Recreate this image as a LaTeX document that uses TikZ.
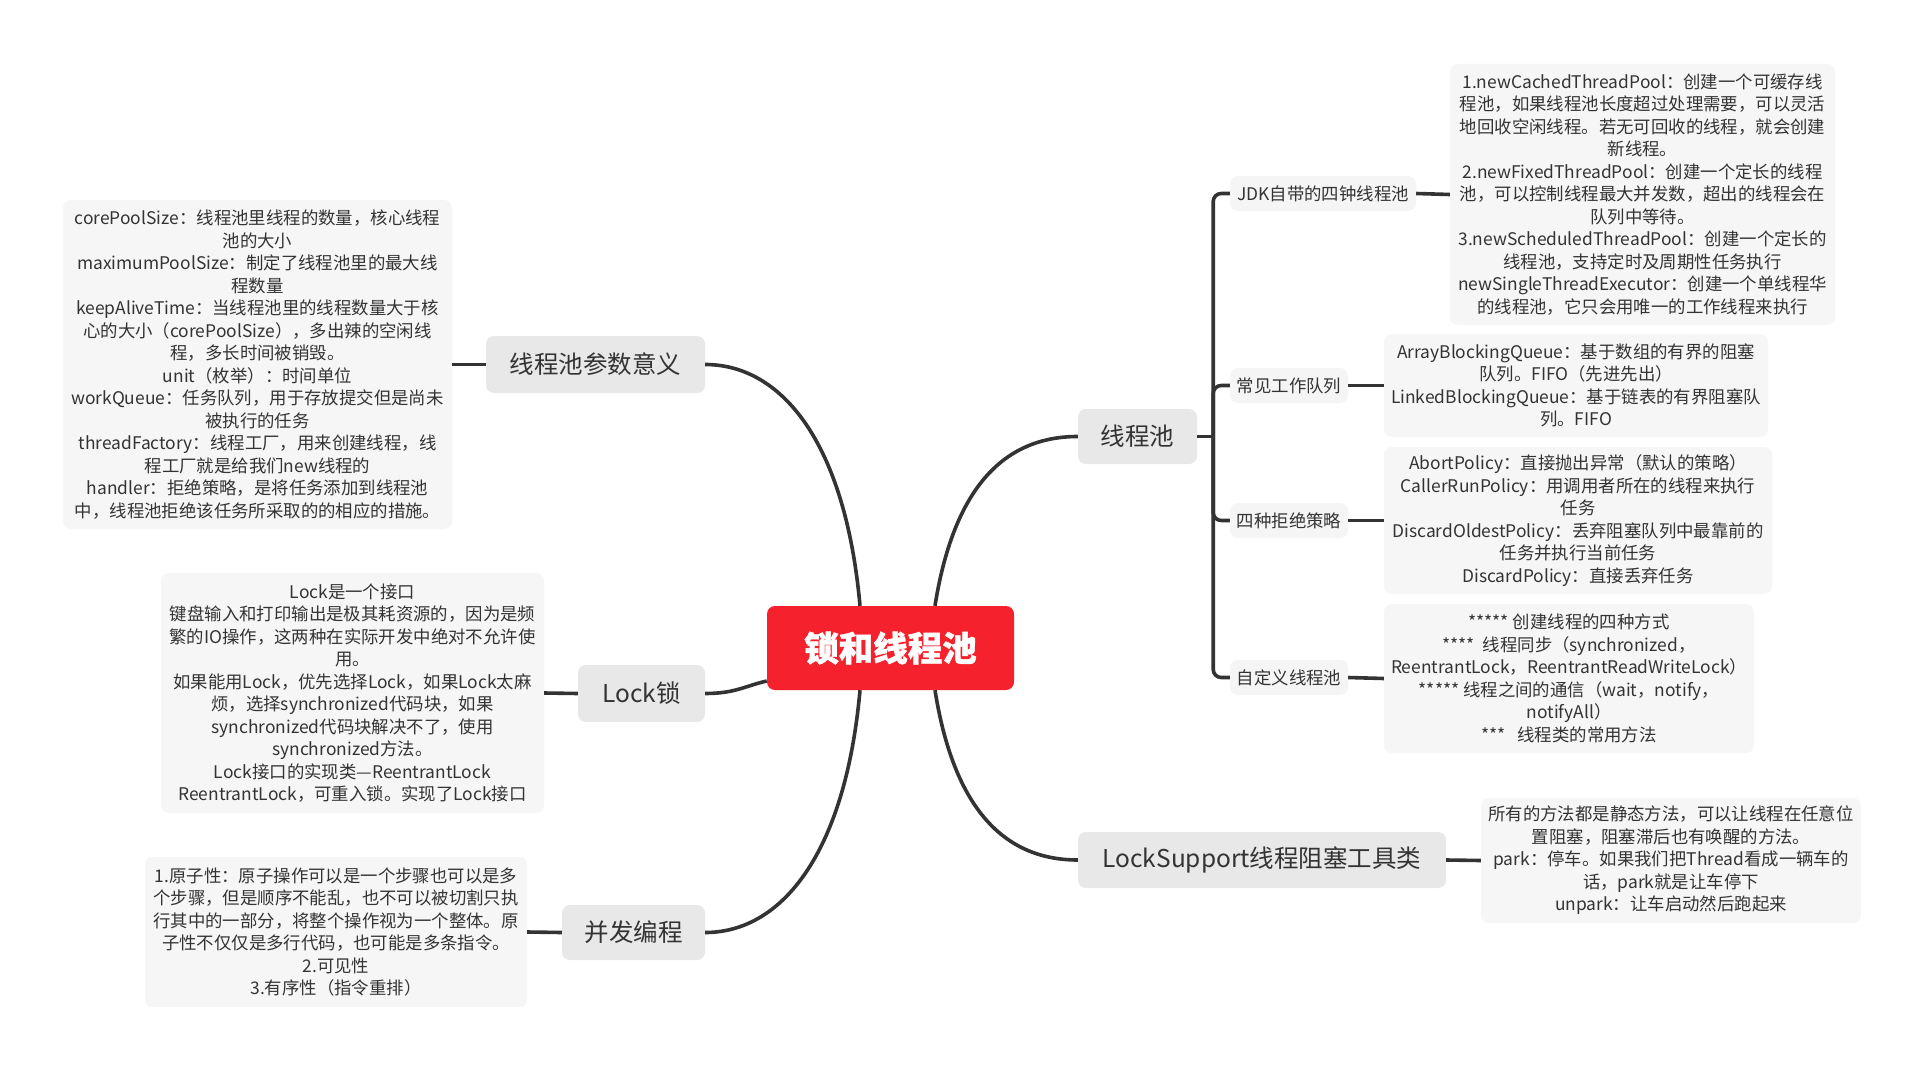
\documentclass[tikz,border=0pt]{standalone}
\usepackage{fontspec}
\setmainfont{Noto Sans CJK SC}
\usetikzlibrary{calc}
\definecolor{cred}{RGB}{245,34,45}
\definecolor{bfill}{RGB}{232,232,232}
\definecolor{sfill}{RGB}{245,245,245}
\definecolor{nfill}{RGB}{246,246,246}
\definecolor{lcol}{RGB}{51,51,51}
\definecolor{tcol}{RGB}{51,51,51}
\begin{document}
\begin{tikzpicture}[x=1pt,y=-1pt,
  centralbox/.style={fill=cred, rounded corners=8pt, text=white, font=\fontsize{34.5}{40}\selectfont\bfseries\addfontfeatures{FakeBold=1.2}, inner sep=0pt},
  branchbox/.style={fill=bfill, rounded corners=8pt, text=tcol, font=\fontsize{24.5}{30}\selectfont, inner sep=0pt},
  subbox/.style={fill=sfill, rounded corners=8pt, text=tcol, font=\fontsize{17.4}{22}\selectfont, inner sep=0pt, minimum width=118pt, minimum height=35pt},
  notebox/.style={fill=nfill, rounded corners=8pt, text=tcol, font=\fontsize{17.4}{22.5}\selectfont, align=center, inner sep=0pt},
  link/.style={draw=lcol, line width=3.6pt},
]
\fill[white] (0,0) rectangle (1925,1070);
\useasboundingbox (0,0) rectangle (1925,1070);

% central
\node[centralbox, minimum width=247pt, minimum height=84pt] (c) at (890.5,648) {锁和线程池};

% left side
\node[branchbox, minimum width=219pt, minimum height=57pt] (p) at (595.5,364.5) {线程池参数意义};
\node[notebox, minimum width=389pt, minimum height=329pt] (pn) at (257.5,364.5) {corePoolSize：线程池里线程的数量，核心线程\\池的大小\\maximumPoolSize：制定了线程池里的最大线\\程数量\\keepAliveTime：当线程池里的线程数量大于核\\心的大小（corePoolSize），多出辣的空闲线\\程，多长时间被销毁。\\unit（枚举）：时间单位\\workQueue：任务队列，用于存放提交但是尚未\\被执行的任务\\threadFactory：线程工厂，用来创建线程，线\\程工厂就是给我们new线程的\\handler：拒绝策略，是将任务添加到线程池\\中，线程池拒绝该任务所采取的的相应的措施。};

\node[branchbox, minimum width=127pt, minimum height=57pt] (l) at (641.5,693.5) {Lock锁};
\node[notebox, minimum width=383pt, minimum height=240pt] (ln) at (352.5,693) {Lock是一个接口\\键盘输入和打印输出是极其耗资源的，因为是频\\繁的IO操作，这两种在实际开发中绝对不允许使\\用。\\如果能用Lock，优先选择Lock，如果Lock太麻\\烦，选择synchronized代码块，如果\\synchronized代码块解决不了，使用\\synchronized方法。\\Lock接口的实现类—ReentrantLock\\ReentrantLock，可重入锁。实现了Lock接口};

\node[branchbox, minimum width=143pt, minimum height=55pt] (b) at (633.5,932.5) {并发编程};
\node[notebox, minimum width=382pt, minimum height=150pt] (bn) at (336,932) {1.原子性：原子操作可以是一个步骤也可以是多\\个步骤，但是顺序不能乱，也不可以被切割只执\\行其中的一部分，将整个操作视为一个整体。原\\子性不仅仅是多行代码，也可能是多条指令。\\2.可见性\\3.有序性（指令重排）};

% right side
\node[branchbox, minimum width=119pt, minimum height=55pt] (t) at (1137.5,436.5) {线程池};
\node[subbox, minimum width=186pt] (s1) at (1323,193.5) {JDK自带的四钟线程池};
\node[notebox, minimum width=385pt, minimum height=261pt] (n1) at (1642.5,194.5) {1.newCachedThreadPool：创建一个可缓存线\\程池，如果线程池长度超过处理需要，可以灵活\\地回收空闲线程。若无可回收的线程，就会创建\\新线程。\\2.newFixedThreadPool：创建一个定长的线程\\池，可以控制线程最大并发数，超出的线程会在\\队列中等待。\\3.newScheduledThreadPool：创建一个定长的\\线程池，支持定时及周期性任务执行\\newSingleThreadExecutor：创建一个单线程华\\的线程池，它只会用唯一的工作线程来执行};

\node[subbox] (s2) at (1289,385.5) {常见工作队列};
\node[notebox, minimum width=384pt, minimum height=103pt] (n2) at (1576,385.5) {ArrayBlockingQueue：基于数组的有界的阻塞\\队列。FIFO（先进先出）\\LinkedBlockingQueue：基于链表的有界阻塞队\\列。FIFO};

\node[subbox] (s3) at (1289,520.5) {四种拒绝策略};
\node[notebox, minimum width=388pt, minimum height=147pt] (n3) at (1578,520.5) {AbortPolicy：直接抛出异常（默认的策略）\\CallerRunPolicy：用调用者所在的线程来执行\\任务\\DiscardOldestPolicy：丢弃阻塞队列中最靠前的\\任务并执行当前任务\\DiscardPolicy：直接丢弃任务};

\node[subbox] (s4) at (1289,677.5) {自定义线程池};
\node[notebox, minimum width=370pt, minimum height=149pt] (n4) at (1569,678.5) {*****\ 创建线程的四种方式\\****\ \ 线程同步（synchronized，\\ReentrantLock，ReentrantReadWriteLock）\\*****\ 线程之间的通信（wait，notify，\\notifyAll）\\***\ \ \ 线程类的常用方法};

\node[branchbox, minimum width=368pt, minimum height=56pt] (ls) at (1262,860) {LockSupport线程阻塞工具类};
\node[notebox, minimum width=380pt, minimum height=125pt] (lsn) at (1671,860.5) {所有的方法都是静态方法，可以让线程在任意位\\置阻塞，阻塞滞后也有唤醒的方法。\\park：停车。如果我们把Thread看成一辆车的\\话，park就是让车停下\\unpark：让车启动然后跑起来};

% main curves
\draw[link] (p.east) .. controls +(75,0) and +(-15,-166) .. ($(c.north)+(-30.5,0)$);
\draw[link] (b.east) .. controls +(75,0) and +(-15,166) .. ($(c.south)+(-30.5,0)$);
\draw[link] (l.east) .. controls +(30,0) and +(-22,5) .. ($(c.west)+(0,33)$);
\draw[link] (t.west) .. controls +(-68,0) and +(20,-126) .. ($(c.north)+(44.5,0)$);
\draw[link] (ls.west) .. controls +(-68,0) and +(20,126) .. ($(c.south)+(44.5,0)$);

% stubs to notes
\draw[link] (p.west) -- (pn.east);
\draw[link] (l.west) -- (ln.east);
\draw[link] (b.west) -- (bn.east);
\draw[link] (ls.east) -- (lsn.west);
\draw[link] (s1.east) -- (n1.west);
\draw[link] (s2.east) -- (n2.west);
\draw[link] (s3.east) -- (n3.west);
\draw[link] (s4.east) -- (n4.west);

% trunk
\coordinate (j) at ($(t.east)+(16,0)$);
\draw[link] (t.east) -- (j);
\draw[link, rounded corners=8pt] (j) |- (s1.west);
\draw[link, rounded corners=8pt] (j) |- (s2.west);
\draw[link, rounded corners=8pt] (j) |- (s3.west);
\draw[link, rounded corners=8pt] (j) |- (s4.west);
\end{tikzpicture}
\end{document}
